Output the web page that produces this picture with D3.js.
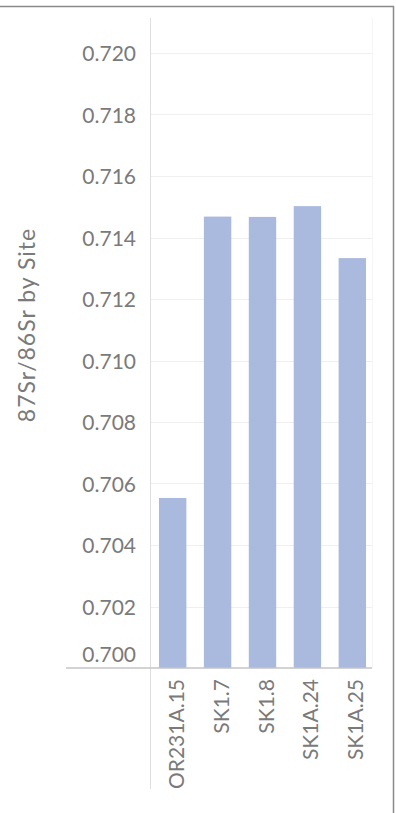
<!DOCTYPE html>
<html>
<head>
<meta charset="utf-8">
<script src="https://cdn.jsdelivr.net/npm/d3@7"></script>
<style>
  body { margin: 0; background: #fff; }
  text { font-family: Lato, "Open Sans", sans-serif; fill: #7a7a7a; }
</style>
</head>
<body>
<svg id="chart"></svg>
<script>
// values
const sites = ["OR231A.15", "SK1.7", "SK1.8", "SK1A.24", "SK1A.25"];
const ratios = [0.70553, 0.71468, 0.71467, 0.71502, 0.71333];
const yTicks = [0.700, 0.702, 0.704, 0.706, 0.708, 0.710, 0.712, 0.714, 0.716, 0.718, 0.720];
const yTitle = "87Sr/86Sr by Site";

const width = 396, height = 813;
const svg = d3.select("#chart")
    .attr("width", width)
    .attr("height", height);

const x = d3.scaleBand()
    .domain(sites)
    .range([150, 375])
    .paddingInner(0.39)
    .paddingOuter(0.2);

const y = d3.scaleLinear()
    .domain([0.700, 0.720])
    .range([668, 53]);

// outer frame (top and right edges only)
svg.append("line")
    .attr("x1", 0).attr("x2", 394)
    .attr("y1", 6.5).attr("y2", 6.5)
    .attr("stroke", "#8a8a8a").attr("stroke-width", 1.5);
svg.append("line")
    .attr("x1", 393.5).attr("x2", 393.5)
    .attr("y1", 6).attr("y2", height)
    .attr("stroke", "#8a8a8a").attr("stroke-width", 1.5);

// faint right edge of the pane
svg.append("line")
    .attr("x1", 372.5).attr("x2", 372.5)
    .attr("y1", 18).attr("y2", 668)
    .attr("stroke", "#f5f5f5");

// gridlines
svg.append("g")
    .selectAll("line")
    .data(yTicks.filter(t => t > 0.700))
    .enter().append("line")
    .attr("x1", 150).attr("x2", 372)
    .attr("y1", d => Math.round(y(d)) + 0.5)
    .attr("y2", d => Math.round(y(d)) + 0.5)
    .attr("stroke", "#efefef");

// bars
svg.append("g")
    .selectAll("rect")
    .data(sites)
    .enter().append("rect")
    .attr("x", d => x(d))
    .attr("width", x.bandwidth())
    .attr("y", (d, i) => y(ratios[i]))
    .attr("height", (d, i) => y(0.700) - y(ratios[i]))
    .attr("fill", "#aab9de");

// y axis
const yAxis = svg.append("g")
    .attr("transform", "translate(150,0)")
    .call(d3.axisLeft(y).tickValues(yTicks).tickFormat(d3.format(".3f")).tickSize(0).tickPadding(14));
yAxis.select(".domain").remove();
yAxis.selectAll("text")
    .style("font-size", "21px")
    .attr("dy", "0.38em");
// bottom label is nudged up to sit inside the pane
yAxis.selectAll(".tick").filter(d => d === 0.700).select("text")
    .attr("dy", "-0.32em");

svg.append("line")
    .attr("x1", 150.5).attr("x2", 150.5)
    .attr("y1", 18).attr("y2", 789)
    .attr("stroke", "#dedede");

// baseline
svg.append("line")
    .attr("x1", 66).attr("x2", 372)
    .attr("y1", 668).attr("y2", 668)
    .attr("stroke", "#c4c4c4").attr("stroke-width", 1.5);

// x labels
svg.append("g")
    .selectAll("text")
    .data(sites)
    .enter().append("text")
    .attr("transform", d => `translate(${x(d) + x.bandwidth() / 2 + 11},679) rotate(-90)`)
    .attr("text-anchor", "end")
    .style("font-size", "21px")
    .text(d => d);

// y title
svg.append("text")
    .attr("transform", "translate(35,325) rotate(-90)")
    .attr("text-anchor", "middle")
    .style("font-size", "23px")
    .style("letter-spacing", "1px")
    .text(yTitle);
</script>
</body>
</html>
